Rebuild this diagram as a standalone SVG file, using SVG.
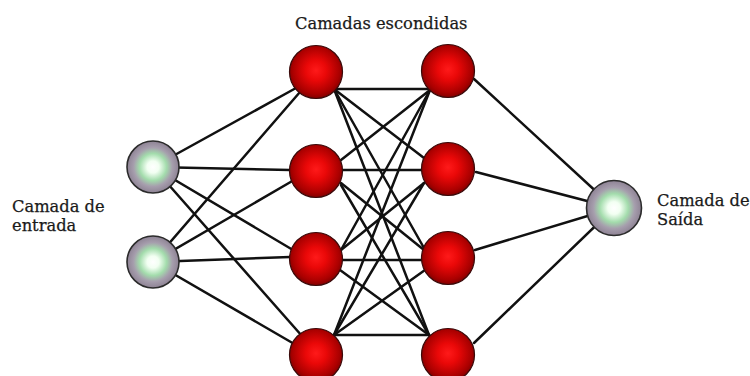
<svg xmlns="http://www.w3.org/2000/svg" width="750" height="376" viewBox="0 0 750 376">
<defs>
<radialGradient id="red" cx="50%" cy="47%" r="55%">
<stop offset="0" stop-color="#ff1a1a"/>
<stop offset="0.35" stop-color="#ea0808"/>
<stop offset="0.8" stop-color="#aa0000"/>
<stop offset="1" stop-color="#780000"/>
</radialGradient>
<radialGradient id="grey" cx="50%" cy="50%" r="52%">
<stop offset="0" stop-color="#ffffff"/>
<stop offset="0.22" stop-color="#f2fff2"/>
<stop offset="0.5" stop-color="#a3dcac"/>
<stop offset="0.72" stop-color="#a69ead"/>
<stop offset="1" stop-color="#8a7e90"/>
</radialGradient>
</defs>
<style>
.e{stroke:#111;stroke-width:2.5;stroke-linecap:round;fill:none}
.h{fill:url(#red);stroke:#3a0a0a;stroke-width:1.2}
.g{fill:url(#grey);stroke:#2b2b2b;stroke-width:1.6}
text{font-family:"DejaVu Serif","Liberation Serif",serif;font-size:16.3px;fill:#1a1a1a;stroke:#1a1a1a;stroke-width:0.25}
</style>
<rect width="750" height="376" fill="#ffffff"/>
<g id="connectors">
<line class="e" x1="153" y1="167" x2="296" y2="88"/>
<line class="e" x1="153" y1="167" x2="290" y2="170"/>
<line class="e" x1="153" y1="167" x2="293" y2="250"/>
<line class="e" x1="153" y1="167" x2="302" y2="336"/>
<line class="e" x1="153" y1="262" x2="300" y2="92"/>
<line class="e" x1="153" y1="262" x2="294" y2="180"/>
<line class="e" x1="153" y1="262" x2="290" y2="257"/>
<line class="e" x1="153" y1="262" x2="296" y2="345"/>
<line class="e" x1="334" y1="89" x2="430" y2="89"/>
<line class="e" x1="334" y1="89" x2="424" y2="158"/>
<line class="e" x1="334" y1="89" x2="424" y2="248"/>
<line class="e" x1="334" y1="89" x2="429" y2="335"/>
<line class="e" x1="341" y1="160" x2="430" y2="90"/>
<line class="e" x1="342" y1="170" x2="423" y2="170"/>
<line class="e" x1="341" y1="183" x2="424" y2="250"/>
<line class="e" x1="341" y1="185" x2="429" y2="335"/>
<line class="e" x1="341" y1="250" x2="430" y2="90"/>
<line class="e" x1="341" y1="250" x2="424" y2="183"/>
<line class="e" x1="342" y1="260" x2="423" y2="260"/>
<line class="e" x1="340" y1="270" x2="429" y2="335"/>
<line class="e" x1="334" y1="335" x2="430" y2="90"/>
<line class="e" x1="334" y1="335" x2="424" y2="183"/>
<line class="e" x1="334" y1="335" x2="425" y2="270"/>
<line class="e" x1="334" y1="335" x2="429" y2="335"/>
<line class="e" x1="474" y1="79" x2="614" y2="208"/>
<line class="e" x1="476" y1="172" x2="614" y2="208"/>
<line class="e" x1="475" y1="250" x2="614" y2="208"/>
<line class="e" x1="474" y1="343" x2="614" y2="208"/>
</g>
<g id="input1"><circle class="g" cx="153" cy="167" r="26"/></g>
<g id="input2"><circle class="g" cx="153" cy="262" r="26"/></g>
<g id="h1n1"><circle class="h" cx="316" cy="72" r="26.5"/></g>
<g id="h1n2"><circle class="h" cx="316" cy="171" r="26.5"/></g>
<g id="h1n3"><circle class="h" cx="316" cy="259" r="26.5"/></g>
<g id="h1n4"><circle class="h" cx="316" cy="355" r="26.5"/></g>
<g id="h2n1"><circle class="h" cx="448" cy="71" r="26.5"/></g>
<g id="h2n2"><circle class="h" cx="448" cy="169" r="26.5"/></g>
<g id="h2n3"><circle class="h" cx="448" cy="258" r="26.5"/></g>
<g id="h2n4"><circle class="h" cx="448" cy="355" r="26.5"/></g>
<g id="output"><circle class="g" cx="614" cy="208" r="27.5"/></g>
<g id="labels">
<text x="295" y="29">Camadas escondidas</text>
<text x="12" y="212">Camada de</text>
<text x="12" y="231">entrada</text>
<text x="657" y="206">Camada de</text>
<text x="657" y="225">Saída</text>
</g>
</svg>
